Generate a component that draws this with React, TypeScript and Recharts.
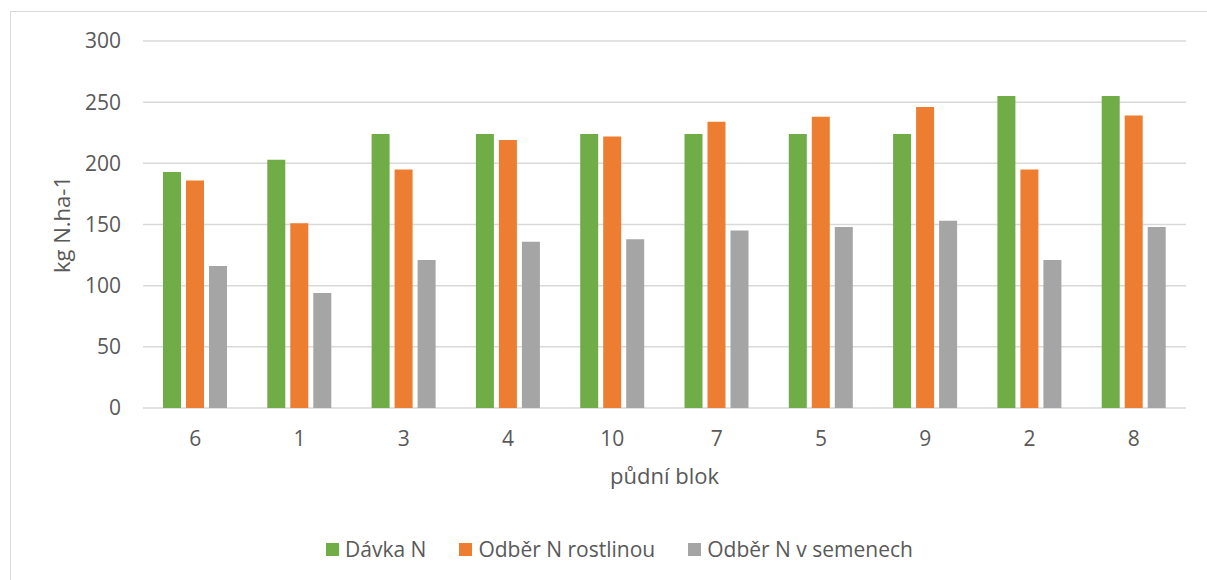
import { BarChart, Bar, XAxis, YAxis, CartesianGrid, Legend } from "recharts";

const blocks = ["6", "1", "3", "4", "10", "7", "5", "9", "2", "8"];
const davkaN = [193, 203, 224, 224, 224, 224, 224, 224, 255, 255];
const odberRostlinou = [186, 151, 195, 219, 222, 234, 238, 246, 195, 239];
const odberSemena = [116, 94, 121, 136, 138, 145, 148, 153, 121, 148];
const yTicks = [0, 50, 100, 150, 200, 250, 300];

const data = blocks.map((block, i) => ({
  block,
  davka: davkaN[i],
  rostlinou: odberRostlinou[i],
  semena: odberSemena[i],
}));

const FONT = '"Open Sans", "Noto Sans", sans-serif';
const TEXT = "#595959";

// eslint-disable-next-line @typescript-eslint/no-explicit-any
function LegendRow({ payload }: any) {
  return (
    <div style={{ display: "flex", alignItems: "center", fontFamily: FONT, fontSize: 21, color: TEXT, whiteSpace: "nowrap" }}>
      {(payload || []).map((entry: any, i: number) => (
        <span
          key={entry.value}
          style={{ display: "flex", alignItems: "center", marginRight: i < payload.length - 1 ? 33 : 0 }}
        >
          <span style={{ width: 13, height: 13, background: entry.color, marginRight: 6, display: "inline-block" }} />
          {entry.value}
        </span>
      ))}
    </div>
  );
}

// eslint-disable-next-line @typescript-eslint/no-explicit-any
function YTitle({ viewBox }: any) {
  const x = viewBox.x + 61;
  const y = viewBox.y + viewBox.height / 2;
  return (
    <text
      transform={`translate(${x},${y}) rotate(-90)`}
      textAnchor="middle"
      dominantBaseline="central"
      fontFamily={FONT}
      fontSize={22}
      fill={TEXT}
    >
      kg N.ha-1
    </text>
  );
}

// eslint-disable-next-line @typescript-eslint/no-explicit-any
function XTitle({ viewBox }: any) {
  return (
    <text
      x={viewBox.x + viewBox.width / 2}
      y={viewBox.y + 76}
      textAnchor="middle"
      fontFamily={FONT}
      fontSize={22}
      fill={TEXT}
    >
      půdní blok
    </text>
  );
}

export default function App() {
  return (
    <div
      style={{
        position: "absolute",
        left: 0,
        top: 0,
        width: 1207,
        height: 580,
        overflow: "hidden",
        background: "#fff",
        fontFamily: FONT,
      }}
    >
      {/* chart area frame, runs off the right and bottom edges */}
      <div
        style={{
          position: "absolute",
          left: 10,
          top: 11,
          width: 1260,
          height: 640,
          border: "1px solid #d9d9d9",
        }}
      />
      <div style={{ position: "absolute", left: 0, top: 0 }}>
        <BarChart
          width={1207}
          height={580}
          data={data}
          margin={{ top: 41, right: 21, left: 0, bottom: 112 }}
          barSize={18}
          barGap={5}
        >
          <CartesianGrid vertical={false} stroke="#d9d9d9" strokeWidth={1.5} />
          <XAxis
            dataKey="block"
            height={60}
            interval={0}
            axisLine={false}
            tickLine={false}
            tickSize={0}
            tickMargin={23}
            tick={{ fontSize: 21, fill: TEXT, fontFamily: FONT }}
            label={{ content: XTitle }}
          />
          <YAxis
            width={143}
            domain={[0, 300]}
            ticks={yTicks}
            axisLine={false}
            tickLine={false}
            tickSize={0}
            tickMargin={22}
            tick={{ fontSize: 21, fill: TEXT, fontFamily: FONT }}
            label={{ content: YTitle }}
          />
          <Legend
            layout="horizontal"
            verticalAlign="middle"
            align="center"
            content={LegendRow}
            wrapperStyle={{ left: 326, top: 535, width: "auto", height: "auto" }}
          />
          <Bar dataKey="davka" name="Dávka N" fill="#70AD47" isAnimationActive={false} />
          <Bar dataKey="rostlinou" name="Odběr N rostlinou" fill="#ED7D31" isAnimationActive={false} />
          <Bar dataKey="semena" name="Odběr N v semenech" fill="#A5A5A5" isAnimationActive={false} />
        </BarChart>
      </div>
    </div>
  );
}
